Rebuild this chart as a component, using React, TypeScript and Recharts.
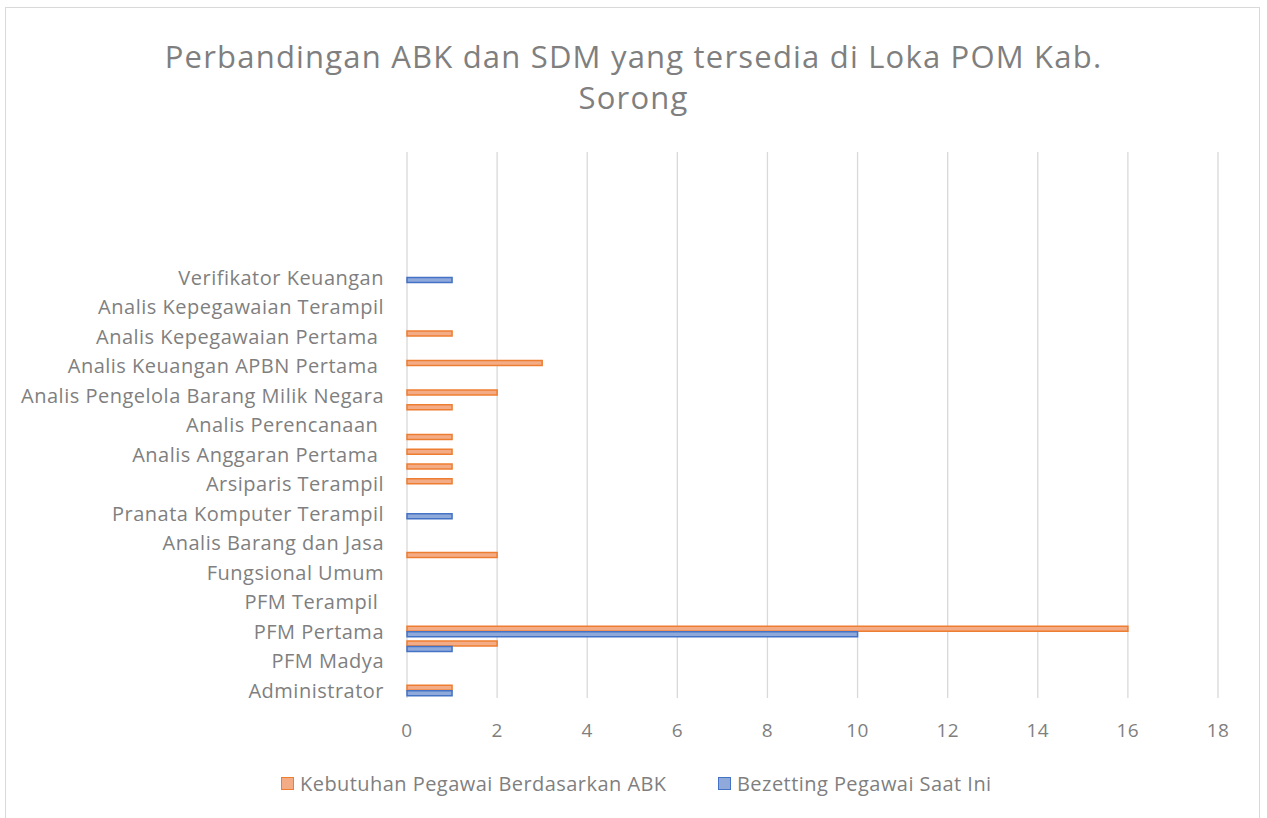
import { BarChart, Bar, XAxis, YAxis, CartesianGrid } from 'recharts'

// Excel order: first category is drawn at the bottom.
// Odd rows are unlabelled in the picture (Excel skipped every other label).
const categories = [
  'Administrator', '',
  'PFM Madya', '',
  'PFM Pertama', '',
  'PFM Terampil\u00a0', '',
  'Fungsional Umum', '',
  'Analis Barang dan Jasa', '',
  'Pranata Komputer Terampil', '',
  'Arsiparis Terampil', '',
  'Analis Anggaran Pertama\u00a0', '',
  'Analis Perencanaan\u00a0', '',
  'Analis Pengelola Barang Milik Negara', '',
  'Analis Keuangan APBN Pertama\u00a0', '',
  'Analis Kepegawaian Pertama\u00a0', '',
  'Analis Kepegawaian Terampil', '',
  'Verifikator Keuangan',
  '', '', '', '', '', '', '', '',
]

const kebutuhanABK = [
  1, null, null, 2, 16, null, null, null, null, 2,
  null, null, null, null, 1, 1, 1, 1, null, 1,
  2, null, 3, null, 1, null, null, null, null, null,
  null, null, null, null, null, null, null,
]

const bezettingPegawai = [
  1, null, null, 1, 10, null, null, null, null, null,
  null, null, 1, null, null, null, null, null, null, null,
  null, null, null, null, null, null, null, null, 1, null,
  null, null, null, null, null, null, null,
]

const xTicks = [0, 2, 4, 6, 8, 10, 12, 14, 16, 18]

const seriesNames = ['Kebutuhan Pegawai Berdasarkan ABK', 'Bezetting Pegawai Saat Ini']

const FONT = '"Open Sans", sans-serif'
const TEXT = '#7f7f7f'
const ORANGE = '#ED7D31'
const ORANGE_FILL = '#F4AC86'
const BLUE = '#4472C4'
const BLUE_FILL = '#8FA9DB'

const chartData = categories.map((name, i) => ({
  idx: i,
  name,
  abk: kebutuhanABK[i],
  bezetting: bezettingPegawai[i],
}))

function LegendItem({ label, stroke, fill, left }: { label: string; stroke: string; fill: string; left: number }) {
  return (
    <div style={{ position: 'absolute', left, top: 770, display: 'flex', alignItems: 'center' }}>
      <div style={{ width: 11, height: 11, border: `1.5px solid ${stroke}`, background: fill, marginRight: 6 }} />
      <span style={{ fontFamily: FONT, fontSize: 20, letterSpacing: 0.45, color: TEXT, whiteSpace: 'nowrap' }}>{label}</span>
    </div>
  )
}

export default function App() {
  return (
    <div style={{ position: 'absolute', left: 0, top: 0, width: 1267, height: 818, overflow: 'hidden', background: '#fff' }}>
      <div
        style={{
          position: 'absolute',
          left: 5,
          top: 7,
          width: 1253,
          height: 830,
          border: '1px solid #d9d9d9',
        }}
      />
      <div
        style={{
          position: 'absolute',
          left: 0,
          top: 36,
          width: 1267,
          textAlign: 'center',
          fontFamily: FONT,
          fontSize: 31,
          letterSpacing: 1.2,
          lineHeight: '41px',
          color: TEXT,
        }}
      >
        Perbandingan ABK dan SDM yang tersedia di Loka POM Kab.
        <br />
        Sorong
      </div>

      <div style={{ position: 'absolute', left: 0, top: 0 }}>
        <BarChart
          width={1267}
          height={818}
          data={chartData}
          layout="vertical"
          margin={{ top: 152, right: 49, bottom: 90, left: 0 }}
          barSize={5}
          barGap={0.5}
        >
          <CartesianGrid horizontal={false} stroke="#d9d9d9" strokeWidth={1.3} />
          <XAxis
            type="number"
            domain={[0, 18]}
            ticks={xTicks}
            height={30}
            axisLine={false}
            tickLine={false}
            tickSize={0}
            tickMargin={26}
            tick={{ fontFamily: FONT, fontSize: 19, letterSpacing: 0.4, fill: TEXT }}
          />
          <YAxis
            type="category"
            dataKey="idx"
            reversed
            width={407}
            interval={1}
            axisLine={false}
            tickLine={false}
            tickSize={0}
            tickMargin={23}
            tickFormatter={(v: number) => categories[v]}
            tick={{ fontFamily: FONT, fontSize: 20, letterSpacing: 0.5, fill: TEXT }}
          />
          <Bar dataKey="abk" name={seriesNames[0]} fill={ORANGE_FILL} stroke={ORANGE} strokeWidth={1.5} isAnimationActive={false} />
          <Bar dataKey="bezetting" name={seriesNames[1]} fill={BLUE_FILL} stroke={BLUE} strokeWidth={1.5} isAnimationActive={false} />
        </BarChart>
      </div>

      <LegendItem label={seriesNames[0]} stroke={ORANGE} fill={ORANGE_FILL} left={281} />
      <LegendItem label={seriesNames[1]} stroke={BLUE} fill={BLUE_FILL} left={718} />
    </div>
  )
}
